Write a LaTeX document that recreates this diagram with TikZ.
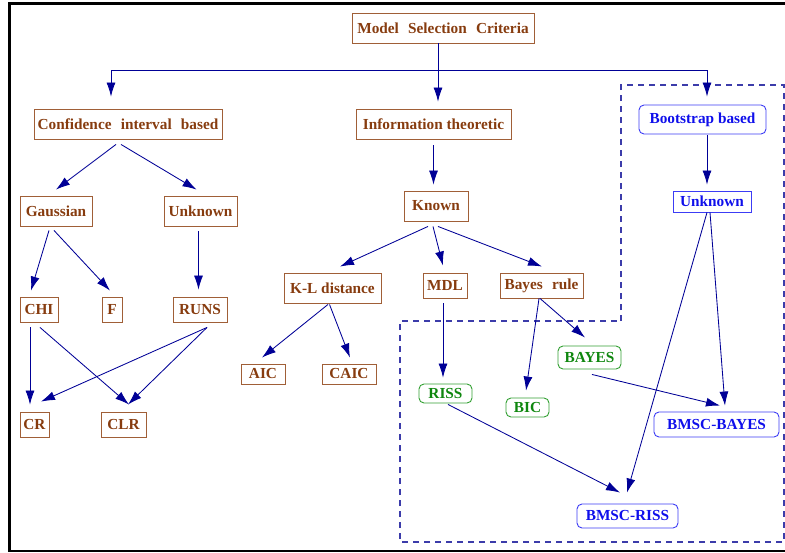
\documentclass[tikz,border=0pt]{standalone}
\usepackage{fontspec}
\setmainfont{Liberation Serif}
\usetikzlibrary{calc,arrows.meta}
\definecolor{browntext}{RGB}{135,60,15}
\definecolor{brownline}{RGB}{160,95,55}
\definecolor{bluetext}{RGB}{15,15,235}
\definecolor{blueline}{RGB}{60,60,245}
\definecolor{greentext}{RGB}{15,135,15}
\definecolor{greenline}{RGB}{50,160,50}
\definecolor{arrowcol}{RGB}{0,0,150}
\definecolor{dashcol}{RGB}{60,60,170}
\tikzset{
  lbl/.style={font=\bfseries\fontsize{15.3}{18}\selectfont, inner sep=0pt, line width=0.9pt},
  brownbox/.style={lbl, draw=brownline, text=browntext},
  bluebox/.style={lbl, draw=blueline, text=bluetext, rounded corners=5pt},
  bluerect/.style={lbl, draw=blueline, text=bluetext},
  greenbox/.style={lbl, draw=greenline, text=greentext, rounded corners=5pt},
  arr/.style={draw=arrowcol, line width=0.85pt, -{Latex[length=14pt,width=9pt]}},
  frame/.style={line width=2.2pt, draw=black},
  region/.style={draw=dashcol, line width=1.1pt, dash pattern=on 6pt off 5pt}
}
\newcommand{\wsp}{\hspace{0.6em}}
\begin{document}
\begin{tikzpicture}[x=1pt,y=-1pt]
\useasboundingbox (0,0) rectangle (785,552);
\draw[frame] (9.5,3.5) rectangle (820,551);
\draw[region] (621,321) -- (621,85) -- (784,85) -- (784,542) -- (400,542) -- (400,321) -- cycle;

% nodes
\node[brownbox, minimum width=182pt, minimum height=30pt] (model) at (443,28) {Model\wsp Selection\wsp Criteria};
\node[brownbox, minimum width=188pt, minimum height=30pt] (conf) at (128,124) {Confidence\wsp interval\wsp based};
\node[brownbox, minimum width=155pt, minimum height=30pt] (info) at (433.5,124) {Information theoretic};
\node[bluebox, minimum width=127pt, minimum height=29pt] (boot) at (702.5,119.5) {Bootstrap based};
\node[brownbox, minimum width=72pt, minimum height=30pt] (gauss) at (56,211) {Gaussian};
\node[brownbox, minimum width=73pt, minimum height=30pt] (unka) at (200.5,211) {Unknown};
\node[brownbox, minimum width=64pt, minimum height=30pt] (known) at (436,206) {Known};
\node[bluerect, minimum width=78pt, minimum height=21pt] (unkb) at (712,201.5) {Unknown};
\node[brownbox, minimum width=38pt, minimum height=25pt] (chi) at (39,309.5) {CHI};
\node[brownbox, minimum width=20pt, minimum height=25pt] (ff) at (112,309.5) {F};
\node[brownbox, minimum width=54pt, minimum height=25pt] (runs) at (200,309.5) {RUNS};
\node[brownbox, minimum width=97pt, minimum height=30pt] (kl) at (332.5,288) {K-L distance};
\node[brownbox, minimum width=44pt, minimum height=25pt] (mdl) at (445,285.5) {MDL};
\node[brownbox, minimum width=83pt, minimum height=25pt] (bayesr) at (541.5,285.5) {Bayes\wsp rule};
\node[brownbox, minimum width=44pt, minimum height=20pt] (aic) at (263,374) {AIC};
\node[brownbox, minimum width=54pt, minimum height=20pt] (caic) at (349,374) {CAIC};
\node[brownbox, minimum width=29pt, minimum height=25pt] (cr) at (34.5,424.5) {CR};
\node[brownbox, minimum width=45pt, minimum height=25pt] (clr) at (123.5,424.5) {CLR};
\node[greenbox, minimum width=63pt, minimum height=23pt] (bayes) at (589.5,357.5) {BAYES};
\node[greenbox, minimum width=53pt, minimum height=19pt] (riss) at (445.5,393.5) {RISS};
\node[greenbox, minimum width=43pt, minimum height=19pt] (bic) at (527.5,407.5) {BIC};
\node[bluebox, minimum width=125pt, minimum height=25pt] (bmscb) at (716.5,424.5) {BMSC-BAYES};
\node[bluebox, minimum width=101pt, minimum height=24pt] (bmscr) at (627.5,516) {BMSC-RISS};

% connectors
\draw[arr] ($(model.south)+(-5,0)$) |- ($(conf.north)+(-17,-38)$) -- ($(conf.north)+(-17,-12)$);
\draw[arr] ($(model.south)+(-5,0)$) |- ($(boot.north)+(4.5,-34)$) -- ($(boot.north)+(4.5,-8)$);
\draw[arr] ($(model.south)+(-5,0)$) -- ($(info.north)+(4.5,-7)$);

\draw[arr] ($(conf.south)+(-12,5)$) -- ($(gauss.north)+(0,-6)$);
\draw[arr] ($(conf.south)+(-7,5)$) -- ($(unka.north)+(-4,-6)$);
\draw[arr] ($(gauss.south)+(-7,4)$) -- ($(chi.north)+(-8,-6)$);
\draw[arr] ($(gauss.south)+(-2,4)$) -- ($(ff.north)+(-2,-6)$);
\draw[arr] ($(unka.south)+(-2,5)$) -- ($(runs.north)+(-1.5,-7)$);
\draw[arr] ($(chi.south)+(-9,5)$) -- ($(cr.north)+(-4.5,-7)$);
\draw[arr] ($(chi.south)+(1,5)$) -- ($(clr.north)+(5.5,-7)$);
\draw[arr] ($(runs.south)+(7,5)$) -- ($(cr.north)+(6.5,-10)$);
\draw[arr] ($(runs.south)+(7,5)$) -- ($(clr.north)+(4.5,-7)$);

\draw[arr] ($(info.south)+(0,6)$) -- ($(info.south |- known.north)+(0,-6)$);
\draw[arr] ($(known.south)+(-8,5)$) -- ($(kl.north)+(7.5,-6)$);
\draw[arr] ($(known.south)+(-3,5)$) -- ($(mdl.north)+(-2,-7)$);
\draw[arr] ($(known.south)+(2,5)$) -- ($(bayesr.north)+(0.5,-6)$);
\draw[arr] ($(kl.south)+(-4.5,1)$) -- ($(aic.north)+(-1,-6)$);
\draw[arr] ($(kl.south)+(-3,1)$) -- ($(caic.north)+(1,-6)$);
\draw[arr] ($(mdl.south)+(-2,5)$) -- ($(riss.north)+(-2.5,-6)$);
\draw[arr] ($(bayesr.south)+(-2.5,0)$) -- ($(bic.north)+(-1.5,-7)$);
\draw[arr] ($(bayesr.south)+(-1.5,0)$) -- ($(bayes.north)+(-4.5,-8)$);
\draw[arr] ($(bayes.south)+(2.5,5)$) -- ($(bmscb.north)+(3.5,-6)$);
\draw[arr] ($(riss.south)+(2.5,1)$) -- ($(bmscr.north)+(-7.5,-11)$);

\draw[arr] ($(boot.south)+(4.5,1)$) -- ($(unkb.north)+(-5,-6)$);
\draw[arr] ($(unkb.south)+(-5,0)$) -- ($(bmscr.north)+(-0.5,-11)$);
\draw[arr] ($(unkb.south)+(-2,0)$) -- ($(bmscb.north)+(8.5,-6)$);
\end{tikzpicture}
\end{document}
